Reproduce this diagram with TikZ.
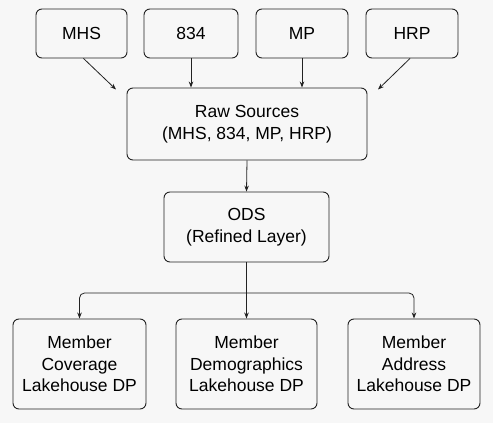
\documentclass[tikz,border=0pt]{standalone}
\usepackage{fontspec}
\setmainfont{Liberation Sans}
\usetikzlibrary{arrows.meta}
\definecolor{bg}{HTML}{F7F7F7}
\definecolor{ln}{HTML}{222222}
\begin{document}
\begin{tikzpicture}[x=1pt,y=1pt,
  box/.style={draw=ln, line width=0.9pt, rounded corners=6pt, fill=bg, align=center,
    font=\fontsize{17.5}{21.5}\selectfont, inner sep=0pt, text=black},
  conn/.style={draw=ln, line width=0.8pt, -{Stealth[length=6pt,width=4.5pt]}}]
\fill[bg] (0,0) rectangle (493,-423);
\useasboundingbox (0,0) rectangle (493,-423);
\node[box, minimum width=91pt, minimum height=49pt] (mhs) at (81.5,-33.5) {MHS};
\node[box, minimum width=94pt, minimum height=49pt] (s834) at (191,-33.5) {834};
\node[box, minimum width=92pt, minimum height=49pt] (mp) at (302,-33.5) {MP};
\node[box, minimum width=92pt, minimum height=49pt] (hrp) at (412,-33.5) {HRP};
\node[box, minimum width=240pt, minimum height=72pt] (raw) at (247,-124) {Raw Sources\\(MHS, 834, MP, HRP)};
\node[box, minimum width=165pt, minimum height=70pt] (ods) at (246.5,-227) {ODS\\(Refined Layer)};
\node[box, minimum width=133pt, minimum height=90pt] (b1) at (79.5,-364) {Member\\Coverage\\Lakehouse DP};
\node[box, minimum width=141pt, minimum height=90pt] (b2) at (246.5,-364) {Member\\Demographics\\Lakehouse DP};
\node[box, minimum width=132pt, minimum height=90pt] (b3) at (414,-364) {Member\\Address\\Lakehouse DP};
\coordinate (e1) at (116,-89.5);
\coordinate (e4) at (378,-89.5);
\coordinate (j) at (246.5,-293);
\draw[conn] (mhs.south) ++(2,0) -- (e1);
\draw[conn] (hrp.south) ++(-2,0) -- (e4);
\draw[conn] (s834.south) -- (s834.south |- raw.north);
\draw[conn] (mp.south) -- (mp.south |- raw.north);
\draw[conn] (raw.south) -- (ods.north);
\draw[conn] (ods.south) -- (b2.north);
\draw[conn, rounded corners=5pt] (j) -| (b1.north);
\draw[conn, rounded corners=5pt] (j) -| (b3.north);
\end{tikzpicture}
\end{document}
